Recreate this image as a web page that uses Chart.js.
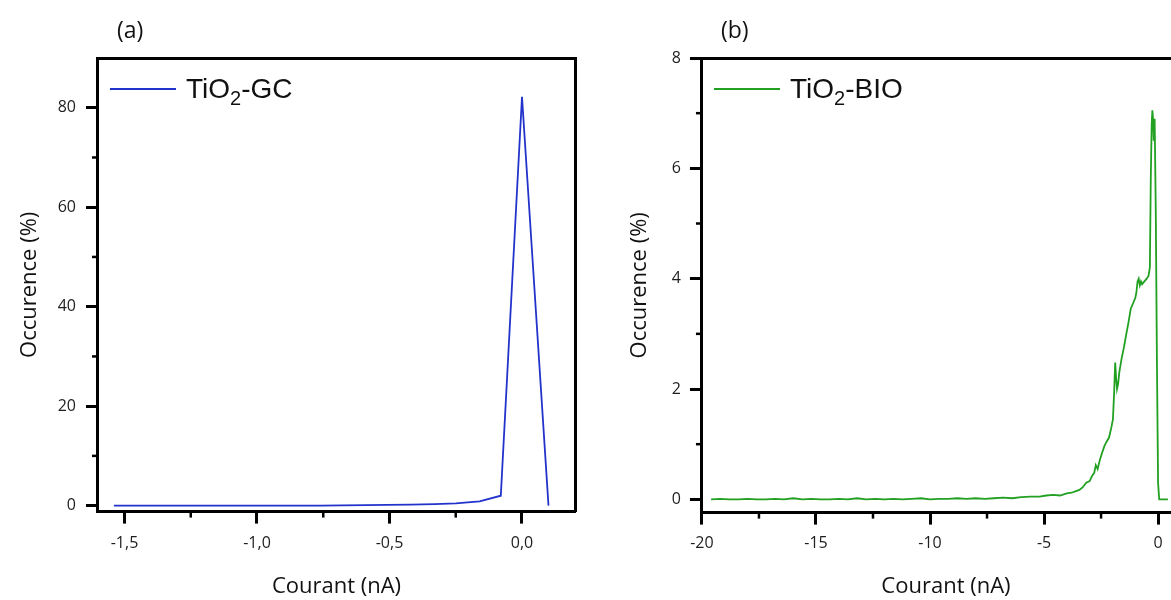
<!DOCTYPE html>
<html>
<head>
<meta charset="utf-8">
<script src="https://cdn.jsdelivr.net/npm/chart.js@4/dist/chart.umd.min.js"></script>
<style>
  html, body { margin: 0; padding: 0; background: #fff; }
  body { width: 1171px; height: 600px; overflow: hidden; position: relative; }
  .panel { position: absolute; top: 0; width: 600px; height: 600px; }
  .tag { position: absolute; top: 13px; font: 23px 'Open Sans', sans-serif; color: #111; }
  .leg { position: absolute; top: 70px; height: 38px; display: flex; align-items: center;
         font: 28px 'Liberation Sans', Arial, sans-serif; color: #111; white-space: nowrap; }
  .leg i { display: inline-block; width: 66px; height: 2px; margin-right: 10px; }
  .leg sub { font-size: 20px; vertical-align: baseline; position: relative; top: 9px; line-height: 0; }
</style>
</head>
<body>
<div class="panel" style="left:0"><canvas id="chartGC" width="600" height="600"></canvas></div>
<div class="panel" style="left:600px"><canvas id="chartBIO" width="600" height="600"></canvas></div>
<div class="tag" style="left:117px">(a)</div>
<div class="tag" style="left:721px">(b)</div>
<div class="leg" style="left:110px"><i style="background:#2233cc"></i>TiO<sub>2</sub>-GC</div>
<div class="leg" style="left:714px"><i style="background:#22a022"></i>TiO<sub>2</sub>-BIO</div>
<script>
// (a) TiO2-GC
const gcCurrent = [-1.54, -1.45, -1.37, -1.28, -1.19, -1.11, -1.02, -0.94, -0.85, -0.76,
                   -0.68, -0.59, -0.51, -0.42, -0.33, -0.25, -0.16, -0.08, 0.0, 0.1];
const gcOccurence = [0, 0, 0, 0, 0, 0, 0, 0, 0, 0.02,
                     0.05, 0.1, 0.15, 0.2, 0.3, 0.45, 0.85, 2.0, 82.2, 0];

// (b) TiO2-BIO
const bioCurrent = [-19.6, -19.2, -18.8, -18.4, -18.0, -17.6, -17.2, -16.8, -16.4, -16.0,
                    -15.6, -15.2, -14.8, -14.4, -14.0, -13.6, -13.2, -12.8, -12.4, -12.0,
                    -11.6, -11.2, -10.8, -10.4, -10.0, -9.6, -9.2, -8.8, -8.4, -8.0,
                    -7.6, -7.2, -6.8, -6.4, -6.0, -5.6, -5.2, -4.9, -4.6, -4.3,
                    -4.0, -3.8, -3.6, -3.45, -3.3, -3.15, -3.0, -2.9, -2.8, -2.73,
                    -2.65, -2.55, -2.45, -2.35, -2.25, -2.15, -2.05, -1.98, -1.93, -1.88,
                    -1.84, -1.8, -1.75, -1.7, -1.6, -1.5, -1.4, -1.3, -1.2, -1.1,
                    -1.0, -0.95, -0.9, -0.85, -0.8, -0.75, -0.7, -0.6, -0.5, -0.42,
                    -0.36, -0.32, -0.28, -0.25, -0.22, -0.19, -0.15, -0.1, -0.05, 0.0,
                    0.05, 0.2, 0.43];
const bioOccurence = [0.0, 0.01, 0.0, 0.0, 0.01, 0.0, 0.0, 0.01, 0.0, 0.02,
                      0.0, 0.01, 0.0, 0.0, 0.01, 0.0, 0.02, 0.0, 0.01, 0.0,
                      0.01, 0.0, 0.01, 0.02, 0.0, 0.01, 0.01, 0.02, 0.01, 0.02,
                      0.01, 0.02, 0.03, 0.02, 0.04, 0.05, 0.05, 0.07, 0.08, 0.07,
                      0.11, 0.12, 0.15, 0.17, 0.22, 0.3, 0.33, 0.42, 0.48, 0.62,
                      0.55, 0.72, 0.85, 0.97, 1.05, 1.12, 1.3, 1.45, 1.9, 2.48,
                      2.2, 2.0, 2.1, 2.3, 2.55, 2.75, 2.98, 3.2, 3.45, 3.55,
                      3.65, 3.75, 3.95, 4.0, 3.88, 3.95, 3.9, 3.95, 4.0, 4.05,
                      4.2, 5.8, 6.8, 7.05, 6.9, 6.5, 6.9, 5.2, 2.5, 0.3,
                      0.0, 0.0, 0.0];

Chart.defaults.font.family = "'Open Sans', sans-serif";
Chart.defaults.color = '#1e1e1e';

// short minor ticks halfway between the labelled ones
const minorTicks = {
    id: 'minorTicks',
    afterDraw(chart) {
        const ctx = chart.ctx;
        ctx.save();
        ctx.strokeStyle = '#000';
        ctx.lineWidth = 2.5;
        ['x', 'y'].forEach(id => {
            const s = chart.scales[id];
            const vals = s.ticks.map(t => t.value);
            if (vals.length < 2) return;
            const step = vals[1] - vals[0];
            for (let v = vals[0] - step / 2; v < s.max - step * 0.05; v += step) {
                if (v <= s.min) continue;
                const p = s.getPixelForValue(v);
                ctx.beginPath();
                if (id === 'x') {
                    ctx.moveTo(p, s.top);
                    ctx.lineTo(p, s.top + 6);
                } else {
                    ctx.moveTo(s.right, p);
                    ctx.lineTo(s.right - 6, p);
                }
                ctx.stroke();
            }
        });
        ctx.restore();
    }
};

function frameAxis(position, min, max) {
    return {
        type: 'linear', position: position, min: min, max: max,
        ticks: { display: false },
        grid: { drawOnChartArea: false, drawTicks: false },
        border: { display: true, width: 3, color: '#000' }
    };
}

function makeChart(canvasId, xs, ys, color, cfg) {
    const ctx = document.getElementById(canvasId).getContext('2d');
    const points = xs.map((x, i) => ({ x: x, y: ys[i] }));
    const tickGrid = { drawOnChartArea: false, tickLength: 12, tickWidth: 3, tickColor: '#000' };
    const scales = {
        x: {
            type: 'linear', min: cfg.xMin, max: cfg.xMax,
            ticks: {
                stepSize: cfg.xStep, includeBounds: false, padding: cfg.xPad,
                font: { size: 16 }, maxRotation: 0,
                callback: cfg.xFormat
            },
            grid: tickGrid,
            border: { display: true, width: 3, color: '#000' },
            title: {
                display: true, text: 'Courant (nA)', color: '#111',
                font: { size: 22 }, padding: { top: cfg.xTitleTop, bottom: 0 }
            }
        },
        y: {
            type: 'linear', min: cfg.yMin, max: cfg.yMax,
            ticks: { stepSize: cfg.yStep, includeBounds: false, padding: cfg.yPad, font: { size: 16 } },
            grid: tickGrid,
            border: { display: true, width: 3, color: '#000' },
            title: {
                display: true, text: 'Occurence (%)', color: '#111',
                font: { size: 22 }, padding: { top: cfg.yTitleTop, bottom: cfg.yTitleBottom }
            }
        },
        x2: frameAxis('top', cfg.xMin, cfg.xMax)
    };
    if (cfg.rightFrame) scales.y2 = frameAxis('right', cfg.yMin, cfg.yMax);

    return new Chart(ctx, {
        type: 'line',
        data: {
            datasets: [{
                label: cfg.label,
                data: points,
                borderColor: color,
                borderWidth: 1.8,
                pointRadius: 0,
                tension: 0,
                fill: false
            }]
        },
        options: {
            responsive: false,
            animation: false,
            layout: { padding: cfg.padding },
            plugins: { legend: { display: false }, tooltip: { enabled: false } },
            scales: scales
        },
        plugins: [minorTicks]
    });
}

makeChart('chartGC', gcCurrent, gcOccurence, '#2233cc', {
    label: 'TiO2-GC',
    xMin: -1.6, xMax: 0.2, xStep: 0.5, xPad: 10, xTitleTop: 10.8,
    xFormat: v => v.toFixed(1).replace('.', ','),
    yMin: -1.2, yMax: 90, yStep: 20, yPad: 10, yTitleTop: 12.8, yTitleBottom: 4.5,
    rightFrame: true,
    padding: { top: 58, right: 25, left: 4, bottom: 0 }
});

makeChart('chartBIO', bioCurrent, bioOccurence, '#22a022', {
    label: 'TiO2-BIO',
    xMin: -20, xMax: 1.4, xStep: 5, xPad: 9, xTitleTop: 11.8,
    xFormat: v => String(Math.round(v)),
    yMin: -0.24, yMax: 8, yStep: 2, yPad: 9, yTitleTop: 22.8, yTitleBottom: 9.6,
    rightFrame: false,
    padding: { top: 58, right: 10, left: 4, bottom: 0 }
});
</script>
</body>
</html>
